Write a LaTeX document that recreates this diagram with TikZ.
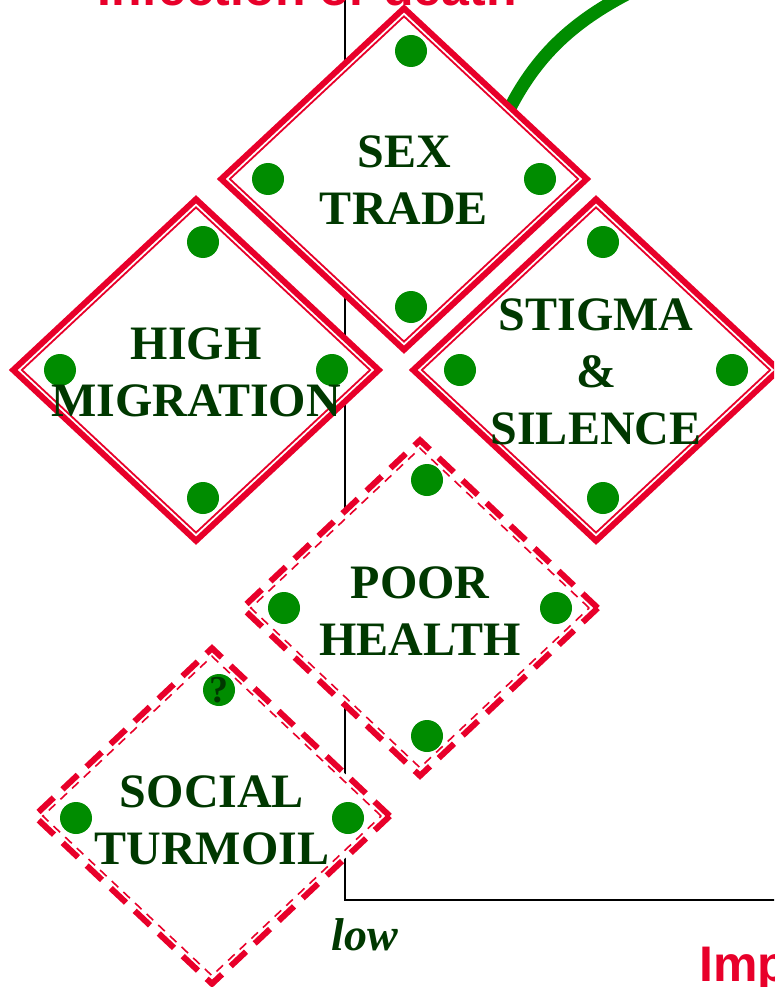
\documentclass[tikz,border=0pt]{standalone}
\usepackage{fontspec}
\setmainfont{Liberation Serif}
\newfontfamily\headfont{Liberation Sans}
\usetikzlibrary{shapes.geometric}
\definecolor{riskred}{RGB}{232,0,42}
\definecolor{dotgreen}{RGB}{0,140,0}
\definecolor{labelgreen}{RGB}{0,56,0}
\tikzset{
  solidbox/.style={diamond, draw=riskred, fill=white, line width=6pt, inner sep=0pt,
    minimum width=368pt, minimum height=344pt},
  solidinner/.style={diamond, draw=riskred, line width=1.8pt, inner sep=0pt,
    minimum width=349pt, minimum height=326pt},
  dashbox/.style={solidbox, minimum width=358pt, minimum height=338pt, dash pattern=on 21pt off 12pt},
  dashinner/.style={solidinner, line width=1.6pt, minimum width=339pt, minimum height=320pt,
    dash pattern=on 9pt off 7pt},
  factor/.style={font=\fontsize{48}{57}\selectfont\bfseries, text=labelgreen, align=center, inner sep=0pt},
  riskdot/.style={circle, fill=dotgreen, minimum size=32pt, inner sep=0pt},
  axistitle/.style={font=\headfont\bfseries\fontsize{50}{60}\selectfont, text=riskred, inner sep=0pt},
  lowlabel/.style={font=\fontsize{46}{50}\selectfont\bfseries\itshape, text=labelgreen, inner sep=0pt}
}
\begin{document}
\begin{tikzpicture}[x=1pt,y=-1pt]
  \useasboundingbox (0,0) rectangle (774,987);
  \clip (0,0) rectangle (774,987);
  % axes
  \coordinate (ytop) at (345,-5);
  \coordinate (origin) at (345,900);
  \coordinate (xend) at (780,900);
  \draw[line width=2pt] (ytop) -- (origin) -- (xend);
  \node[axistitle,anchor=base west] (ytitle) at (97,6) {Infection or death};
  \node[axistitle,anchor=base west] (xtitle) at (699,981) {Impact};
  \node[lowlabel,anchor=base] (low) at (365,950) {low};
  % trend curve
  \coordinate (c0) at (505,118);
  \coordinate (c1) at (645,-15);
  \draw[dotgreen,line width=13pt] (c0) .. controls (535,55) and (575,18) .. (c1);
  % factors
  \node[solidbox] (sexbox) at (404,179) {};
  \node[solidinner] (sexin) at (sexbox.center) {};
  \node[solidbox] (migbox) at (196,370) {};
  \node[solidinner] (migin) at (migbox.center) {};
  \node[solidbox] (stigbox) at (596,370) {};
  \node[solidinner] (stigin) at (stigbox.center) {};
  \node[dashbox] (poorbox) at (420,608) {};
  \node[dashinner] (poorin) at (poorbox.center) {};
  \node[dashbox] (socbox) at (212,816) {};
  \node[dashinner] (socin) at (socbox.center) {};
  \foreach \b in {sexbox,migbox,stigbox,poorbox} {
    \node[riskdot] (\b-n) at ([shift={(7,-128)}]\b.center) {};
    \node[riskdot] (\b-w) at ([shift={(-136,0)}]\b.center) {};
    \node[riskdot] (\b-e) at ([shift={(136,0)}]\b.center) {};
    \node[riskdot] (\b-s) at ([shift={(7,128)}]\b.center) {};
  }
  \node[riskdot,font=\fontsize{38}{38}\selectfont\bfseries,text=labelgreen] (socbox-n) at ([shift={(7,-126)}]socbox.center) {?};
  \node[riskdot] (socbox-w) at ([shift={(-136,2)}]socbox.center) {};
  \node[riskdot] (socbox-e) at ([shift={(136,2)}]socbox.center) {};
  \node[factor] (sex) at (404,180) {SEX\\TRADE};
  \node[factor] (mig) at (196,372) {HIGH\\MIGRATION};
  \node[factor] (stig) at (596,372) {STIGMA\\\&\\SILENCE};
  \node[factor] (poor) at (420,611) {POOR\\HEALTH};
  \node[factor] (soc) at (212,820) {SOCIAL\\TURMOIL};
\end{tikzpicture}
\end{document}
